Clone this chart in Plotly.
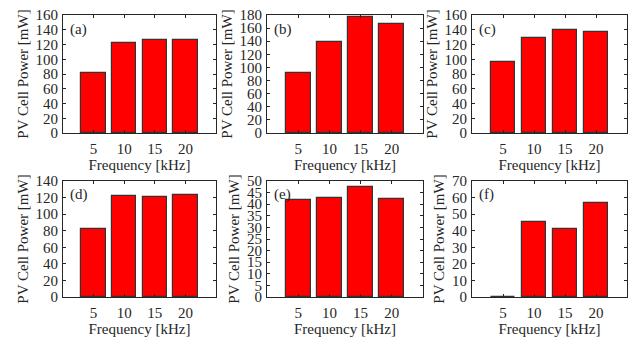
import plotly.graph_objects as go

freq = [5, 10, 15, 20]
power_a = [81, 122, 126, 126.5]
power_b = [91, 139, 176.5, 166]
power_c = [96, 128.5, 139, 137.5]
power_d = [81.5, 121.5, 121, 123]
power_e = [42, 42.6, 47.3, 42.4]
power_f = [0.3, 45, 41, 57]
panels = ["(a)", "(b)", "(c)", "(d)", "(e)", "(f)"]
series = [power_a, power_b, power_c, power_d, power_e, power_f]
ymax = [160, 180, 160, 140, 50, 70]
ystep = [20, 20, 20, 20, 5, 10]

W, H = 639, 338
xpix = [(63, 216), (267, 423), (472, 627)]
ypix = [(15, 133), (181, 297)]

font = dict(family="Liberation Serif, Times New Roman, serif", size=15, color="#262626")

fig = go.Figure()
for i, (lab, vals) in enumerate(zip(panels, series)):
    r, c = divmod(i, 3)
    n = i + 1
    xa = "x" if n == 1 else f"x{n}"
    ya = "y" if n == 1 else f"y{n}"
    fig.add_trace(go.Bar(
        x=freq, y=vals, xaxis=xa, yaxis=ya, width=4,
        marker=dict(color="#ff0000", line=dict(color="#333333", width=1.2)),
        showlegend=False,
    ))
    x0, x1 = xpix[c]
    y0, y1 = ypix[r]
    common = dict(showline=True, linecolor="#262626", linewidth=1, mirror="ticks",
                  ticks="inside", ticklen=3, tickcolor="#262626", showgrid=False,
                  zeroline=False, tickfont=font, automargin=False)
    fig.layout[f"xaxis{'' if n == 1 else n}"] = dict(
        domain=[x0 / W, x1 / W], anchor=ya, range=[0, 25],
        tickvals=freq, ticktext=[str(f) for f in freq], ticklabelstandoff=2,
        title=dict(text="Frequency [kHz]", font=font, standoff=3), **common)
    fig.layout[f"yaxis{'' if n == 1 else n}"] = dict(
        domain=[1 - y1 / H, 1 - y0 / H], anchor=xa, range=[0, ymax[i]],
        dtick=ystep[i], tick0=0, ticklabelstandoff=1,
        title=dict(text="PV Cell Power [mW]", font=font, standoff=3), **common)
    fig.add_annotation(text=lab, xref=f"{xa} domain", yref=f"{ya} domain",
                       x=0.03, y=0.97, xanchor="left", yanchor="top",
                       showarrow=False, font=font)

fig.update_layout(width=W, height=H, margin=dict(l=0, r=0, t=0, b=0),
                  paper_bgcolor="white", plot_bgcolor="white", bargap=0)
fig.write_html("out.html")
